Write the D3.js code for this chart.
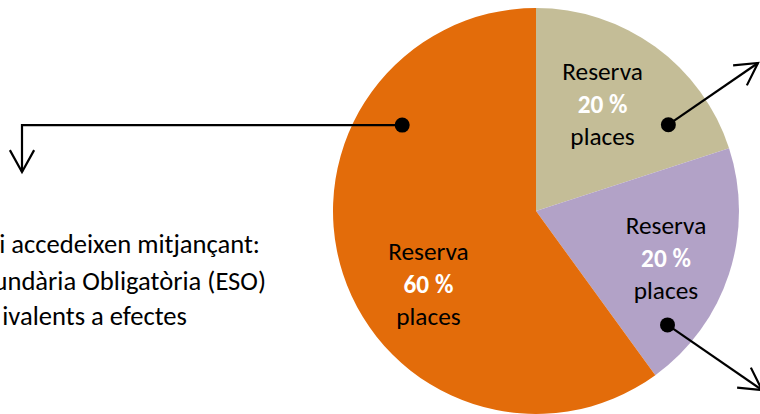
<!DOCTYPE html>
<html>
<head>
<meta charset="utf-8">
<script src="https://cdn.jsdelivr.net/npm/d3@7.9.0/dist/d3.min.js"></script>
<style>
  html, body { margin: 0; padding: 0; background: #fff; }
  svg { display: block; font-family: Carlito, Calibri, "Open Sans", sans-serif; }
</style>
</head>
<body>
<svg id="chart" width="760" height="414"></svg>
<script>
/* ---------- data ---------- */
const slices = ['Reserva A', 'Reserva B', 'Reserva C'];
const shares = [20, 20, 60];
const sliceColors = ['#C4BD97', '#B2A2C7', '#E36C0A'];
const labelTop = 'Reserva';
const labelBottom = 'places';
const sideLines = ['i accedeixen mitjançant:', 'undària Obligatòria (ESO)', 'ivalents a efectes'];

/* ---------- layout ---------- */
const width = 760, height = 414;
const cx = 536, cy = 211, radius = 203;
const deg = Math.PI / 180;

// label / pointer placement per slice (angle clockwise from top, distance)
const labelPos = [[34.2, 118.4], [113.3, 141.5], [232.7, 135.2]];
const dotPos = [[56.9, 158], [130.9, 174], [302.7, 159]];

const svg = d3.select('#chart');
const g = svg.append('g').attr('transform', `translate(${cx},${cy})`);

const pie = d3.pie().sort(null).value((d) => d).startAngle(0).endAngle(2 * Math.PI);
const arc = d3.arc().innerRadius(0).outerRadius(radius);
const arcs = pie(shares);

g.selectAll('path.slice')
  .data(arcs)
  .join('path')
  .attr('class', 'slice')
  .attr('d', arc)
  .attr('fill', (d, i) => sliceColors[i]);

const polar = ([a, r]) => [r * Math.sin(a * deg), -r * Math.cos(a * deg)];

/* ---------- labels ---------- */
const labels = g.selectAll('text.lbl')
  .data(arcs)
  .join('text')
  .attr('class', 'lbl')
  .attr('text-anchor', 'middle')
  .attr('font-size', 25.3)
  .attr('transform', (d, i) => `translate(${polar(labelPos[i])})`);

labels.append('tspan').attr('x', 0).attr('y', -33).attr('fill', '#000').text(labelTop);
labels.append('tspan').attr('x', 0).attr('y', 0).attr('fill', '#fff').attr('font-weight', 'bold')
  .text((d) => `${d.data} %`);
labels.append('tspan').attr('x', 0).attr('y', 32).attr('fill', '#000').text(labelBottom);

/* ---------- pointers ---------- */
function arrowHead(tip, from, len = 25, spread = 29) {
  const ang = Math.atan2(from[1] - tip[1], from[0] - tip[0]);
  const a1 = ang + spread * deg, a2 = ang - spread * deg;
  return `M${tip[0] + len * Math.cos(a1)},${tip[1] + len * Math.sin(a1)}L${tip[0]},${tip[1]}L${tip[0] + len * Math.cos(a2)},${tip[1] + len * Math.sin(a2)}`;
}

const dots = dotPos.map((p) => { const q = polar(p); return [q[0] + cx, q[1] + cy]; });
const ends = [
  [[758, 63]],
  [[762, 390]],
  [[22, dots[2][1]], [22, 172]]
];

const pointers = svg.append('g').attr('fill', 'none').attr('stroke', '#000').attr('stroke-width', 2.2);
dots.forEach((dot, i) => {
  const pts = [dot, ...ends[i]];
  pointers.append('path').attr('d', d3.line()(pts));
  const tip = pts[pts.length - 1];
  const prev = pts[pts.length - 2];
  pointers.append('path').attr('d', arrowHead(tip, prev));
});

svg.append('g').selectAll('circle')
  .data(dots)
  .join('circle')
  .attr('cx', (d) => d[0])
  .attr('cy', (d) => d[1])
  .attr('r', 7.5)
  .attr('fill', '#000');

/* ---------- side text (clipped at the left edge in the source) ---------- */
svg.append('g').selectAll('text')
  .data(sideLines)
  .join('text')
  .attr('text-anchor', 'end')
  .attr('x', (d, i) => [260, 266, 187][i])
  .attr('y', (d, i) => [253, 290, 325][i])
  .attr('font-size', 26.6)
  .attr('fill', '#000')
  .text((d) => d);
</script>
</body>
</html>
